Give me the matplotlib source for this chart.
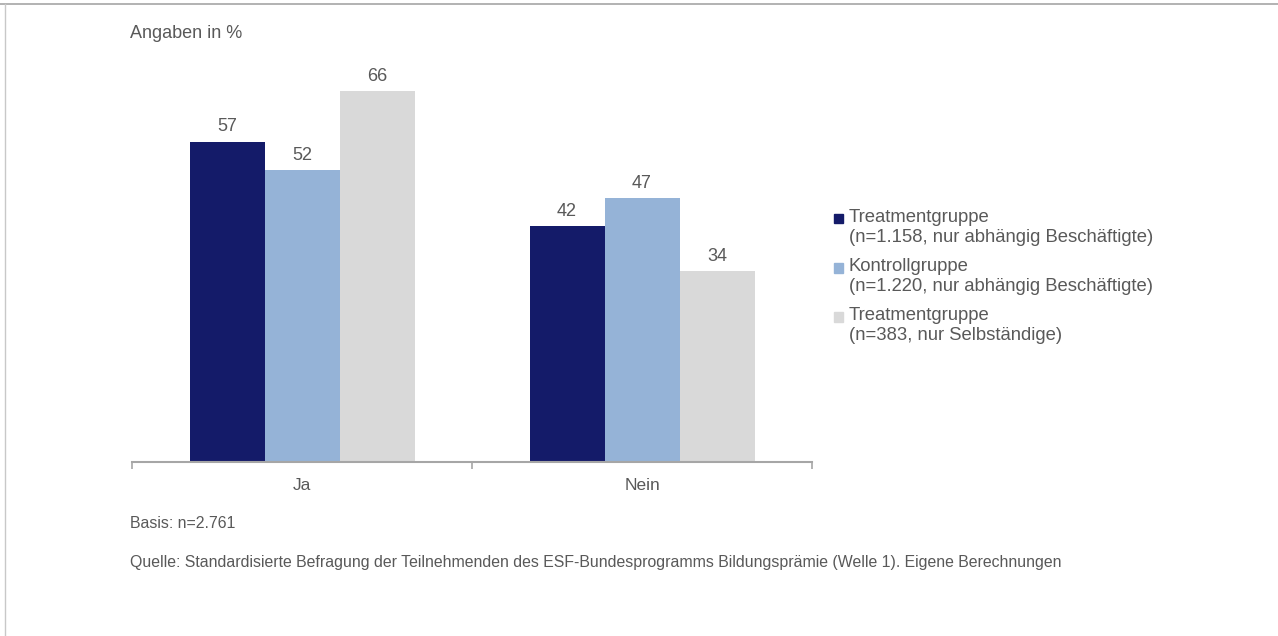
"""
Ja/Nein-Anteile nach Gruppe (Bildungsprämie, Welle 1)
"""

import numpy as np
import matplotlib
matplotlib.use("Agg")
import matplotlib.pyplot as plt
from matplotlib.patches import Rectangle
from matplotlib.lines import Line2D


categories = ["Ja", "Nein"]
series_names = [
    "Treatmentgruppe\n(n=1.158, nur abhängig Beschäftigte)",
    "Kontrollgruppe\n(n=1.220, nur abhängig Beschäftigte)",
    "Treatmentgruppe\n(n=383, nur Selbständige)",
]
treatment_abh = [57, 42]
kontroll_abh = [52, 47]
treatment_selb = [66, 34]

COLORS = ["#141b69", "#95b3d7", "#d9d9d9"]
TEXT = "#595959"

plt.rcParams["font.family"] = ["Liberation Sans", "DejaVu Sans"]

W, H = 1278, 636
fig = plt.figure(figsize=(W / 100, H / 100), dpi=100, facecolor="white")

# axes in pixel coordinates of the reference
x0, x1, y_base, y_top = 132, 812, 462, 68.6
ax = fig.add_axes([x0 / W, 1 - y_base / H, (x1 - x0) / W, (y_base - y_top) / H])

x = np.arange(len(categories))
bw = 75 / 340
values = [treatment_abh, kontroll_abh, treatment_selb]
for i, (vals, col) in enumerate(zip(values, COLORS)):
    bars = ax.bar(x + (i - 1) * bw, vals, width=bw, color=col, zorder=2)
    for b, v in zip(bars, vals):
        ax.annotate(f"{v}", xy=(b.get_x() + b.get_width() / 2, v),
                    xytext=(0, 4.5), textcoords="offset points",
                    ha="center", va="bottom", fontsize=13, color=TEXT)

ax.set_xlim(-0.5, 1.5)
ax.set_ylim(0, 70)
ax.set_yticks([])
for s in ["top", "right", "left"]:
    ax.spines[s].set_visible(False)
ax.spines["bottom"].set_color("#a6a6a6")
ax.spines["bottom"].set_linewidth(1.5)

# category labels, tick marks between groups
ax.set_xticks([-0.5, 0.5, 1.5])
ax.set_xticklabels([])
ax.tick_params(axis="x", length=5, width=1.2, color="#a6a6a6", direction="out")
for xi, c in zip(x, categories):
    ax.text(xi, -4.1, c, ha="center", va="center", fontsize=12.5, color=TEXT)

# legend drawn by hand: square aligned with first line of each entry
leg_y = [219, 268, 317]
for name, col, yy in zip(series_names, COLORS, leg_y):
    fig.add_artist(Rectangle(((838 - 4.5) / W, 1 - (yy + 4.5) / H), 9 / W, 9 / H,
                             transform=fig.transFigure, color=col))
    fig.text(849 / W, 1 - (yy - 10) / H, name, ha="left", va="top",
             fontsize=13.3, color=TEXT, linespacing=1.2)

fig.text(130 / W, 1 - 33 / H, "Angaben in %", ha="left", va="center",
         fontsize=13, color=TEXT)
fig.text(130 / W, 1 - 523 / H, "Basis: n=2.761", ha="left", va="center",
         fontsize=11.4, color=TEXT)
fig.text(130 / W, 1 - 562 / H,
         "Quelle: Standardisierte Befragung der Teilnehmenden des "
         "ESF-Bundesprogramms Bildungsprämie (Welle 1). Eigene Berechnungen",
         ha="left", va="center", fontsize=11.4, color=TEXT)

# frame lines of the original slide
fig.add_artist(Line2D([0, 1], [1 - 3.5 / H, 1 - 3.5 / H], transform=fig.transFigure,
                      color="#a6a6a6", linewidth=1.2))
fig.add_artist(Line2D([5 / W, 5 / W], [0, 1 - 3.5 / H], transform=fig.transFigure,
                      color="#c8c8c8", linewidth=1.0))

fig.savefig("out.png", dpi=100, facecolor="white")
